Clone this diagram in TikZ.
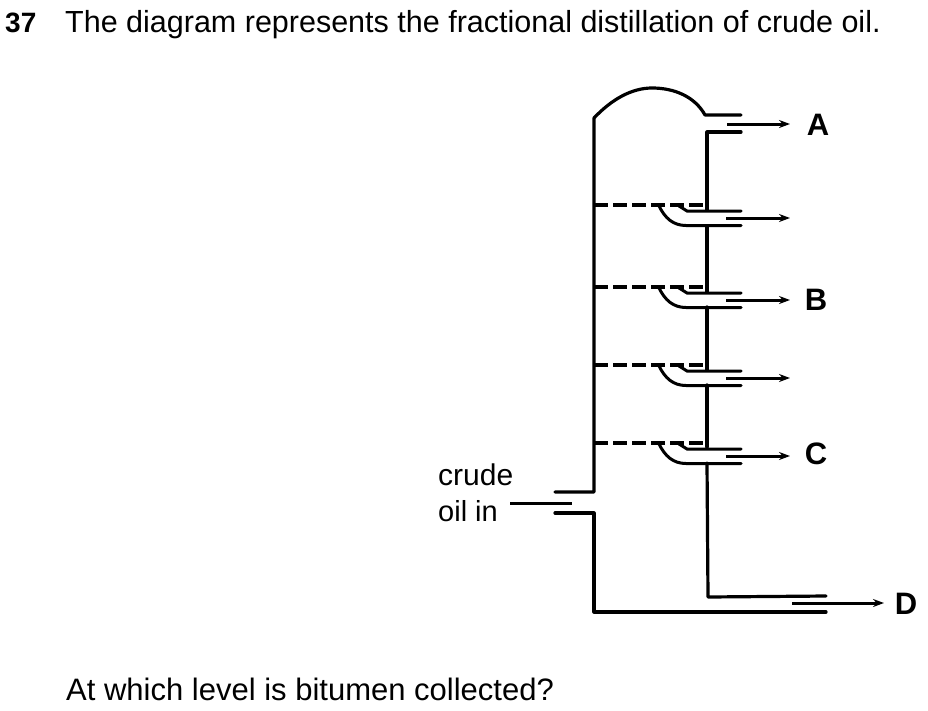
\documentclass[tikz,border=0pt]{standalone}
\usepackage{fontspec}
\setmainfont{Liberation Sans}
\usetikzlibrary{arrows.meta}
\tikzset{
  wall/.style={line width=3.2pt,line cap=round,line join=round,black},
  thin wall/.style={line width=3pt,line cap=round,black},
  tray/.style={line width=3.2pt,dash pattern=on 14pt off 5pt,black},
  flow/.style={line width=3pt,black,-{Stealth[length=11pt,width=8pt]}},
  lab/.style={font=\bfseries\fontsize{31}{31}\selectfont,inner sep=0pt,anchor=center},
  txt/.style={font=\fontsize{30.5}{34}\selectfont,inner sep=0pt,anchor=base west},
  side/.style={font=\fontsize{30}{34}\selectfont,inner sep=0pt,anchor=base west}
}
\begin{document}
\begin{tikzpicture}[x=1pt,y=-1pt]
\useasboundingbox (0,0) rectangle (928,710);
% texts
\node[txt,font=\bfseries\fontsize{28}{32}\selectfont] (num) at (5,32) {37};
\node[txt] (title) at (65,32) {The diagram represents the fractional distillation of crude oil.};
\node[txt,font=\fontsize{31}{34}\selectfont] (question) at (66,700) {At which level is bitumen collected?};
\node[side] (crude) at (438,485) {crude};
\node[side,font=\fontsize{29}{34}\selectfont] (oilin) at (438,521) {oil in};
% labels
\node[lab] (A) at (818,125) {A};
\node[lab] (B) at (816,300) {B};
\node[lab] (C) at (816,454) {C};
\node[lab] (D) at (906,604) {D};
% key points
\coordinate (domeL) at (594,118);
\coordinate (domeR) at (705,115);
\coordinate (lipA) at (741,115);
\coordinate (lipB) at (741,132);
\coordinate (colA) at (707,132);
\coordinate (inU) at (555,492);
\coordinate (inUw) at (594,492);
\coordinate (inL) at (555,513);
\coordinate (inLw) at (594,513);
\coordinate (bl) at (594,612);
\coordinate (br) at (826,612);
\coordinate (colB) at (708,597);
\coordinate (dU) at (826,596);
% shell
\draw[wall] (inU) -- (inUw) -- (domeL)
  .. controls (612,99) and (632,88) .. (652,88)
  .. controls (675,88) and (695,97) .. (domeR) -- (lipA);
\draw[wall] (lipB) -- (colA) -- (707,210);
\draw[wall] (inL) -- (inLw) -- (bl) -- (br);
\draw[wall] (707,463) -- (colB) -- (dU);
\foreach \n/\y in {1/205,2/287,3/365,4/443}{
  \coordinate (t\n) at (594,\y);
  \coordinate (e\n) at (705,\y);
  \coordinate (u\n) at (741,\y+6);
  \coordinate (u\n s) at (687,\y+6);
  \coordinate (l\n) at (741,\y+20.5);
  \coordinate (l\n s) at (686,\y+20.5);
  \coordinate (cs\n) at (659,\y+1);
  \coordinate (ar\n s) at (726,\y+13);
  \coordinate (ar\n e) at (790,\y+13);
  \draw[tray] (t\n) -- (e\n);
  \draw[thin wall] (679,\y+1) -- (u\n s) -- (u\n);
  \draw[thin wall] (cs\n) .. controls (665,\y+13) and (673,\y+20.5) .. (l\n s) -- (l\n);
  \draw[flow] (ar\n s) -- (ar\n e);
}
\draw[wall] (707,226) -- (707,292);
\draw[wall] (707,307) -- (707,370);
\draw[wall] (707,385) -- (707,447);
% outlets and inlet
\coordinate (aS) at (727,124); \coordinate (aE) at (790,124);
\coordinate (dS) at (792,603); \coordinate (dE) at (884,603);
\coordinate (iS) at (510,503); \coordinate (iE) at (572,503);
\draw[flow] (aS) -- (aE);
\draw[flow] (dS) -- (dE);
\draw[line width=3pt,black] (iS) -- (iE);
\end{tikzpicture}
\end{document}
